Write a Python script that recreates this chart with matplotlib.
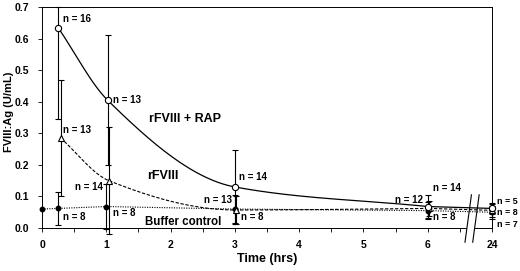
import numpy as np
import matplotlib
matplotlib.use("Agg")
import matplotlib.pyplot as plt

plt.rcParams['font.family'] = ['Liberation Sans', 'DejaVu Sans']
plt.rcParams['font.weight'] = 'bold'

# hours 24 is drawn at axis position 7 (broken axis)
tick_pos = [0, 1, 2, 3, 4, 5, 6, 7]
tick_labels = ["0", "1", "2", "3", "4", "5", "6", "24"]

# rFVIII + RAP
rap_x = [0.25, 1.02, 3.0, 6.0, 7.0]
rap_y = [0.635, 0.405, 0.13, 0.068, 0.062]
rap_err = [0.29, 0.205, 0.118, 0.035, 0.018]
rap_n = ["n = 16", "n = 13", "n = 14", "n = 14", "n = 5"]

# rFVIII
fviii_x = [0.29, 1.04, 3.02, 6.02, 7.0]
fviii_y = [0.285, 0.15, 0.057, 0.062, 0.056]
fviii_err = [0.185, 0.17, 0.045, 0.025, 0.02]
fviii_n = ["n = 13", "n = 14", "n = 13", "n = 12", "n = 8"]

# Buffer control
buf_x = [0.0, 0.25, 1.0, 3.0, 6.0, 7.0]
buf_y = [0.060, 0.062, 0.068, 0.060, 0.055, 0.050]
buf_err = [0.0, 0.052, 0.07, 0.045, 0.028, 0.02]
buf_n = ["n = 8", "n = 8", "n = 8", "n = 8", "n = 7"]


def pchip(x, y, xs):
    # monotone cubic connector used only for drawing the smooth curve
    x = np.asarray(x, float)
    y = np.asarray(y, float)
    h = np.diff(x)
    d = np.diff(y) / h
    m = np.zeros_like(y)
    for k in range(1, len(x) - 1):
        if d[k - 1] * d[k] > 0:
            w1 = 2 * h[k] + h[k - 1]
            w2 = h[k] + 2 * h[k - 1]
            m[k] = (w1 + w2) / (w1 / d[k - 1] + w2 / d[k])
    m[0] = d[0]
    m[-1] = d[-1]
    out = np.empty_like(xs)
    for i, xv in enumerate(xs):
        k = min(np.searchsorted(x, xv, side='right') - 1, len(x) - 2)
        t = (xv - x[k]) / h[k]
        h00 = 2 * t**3 - 3 * t**2 + 1
        h10 = t**3 - 2 * t**2 + t
        h01 = -2 * t**3 + 3 * t**2
        h11 = t**3 - t**2
        out[i] = h00 * y[k] + h10 * h[k] * m[k] + h01 * y[k + 1] + h11 * h[k] * m[k + 1]
    return out


fig = plt.figure(figsize=(5.2, 2.71), dpi=100)
ax = fig.add_axes([42 / 520, 1 - 228 / 271, 450 / 520, 221 / 271])

# smooth curves up to 6 h, straight across the break to 24 h
xs = np.linspace(rap_x[0], rap_x[3], 200)
ax.plot(xs, pchip(rap_x[:4], rap_y[:4], xs), color='black', lw=0.9)
ax.plot(rap_x[3:], rap_y[3:], color='black', lw=0.9)
xs = np.linspace(fviii_x[0], fviii_x[3], 200)
ax.plot(xs, pchip(fviii_x[:4], fviii_y[:4], xs), color='black', lw=0.8, ls=(0, (3, 1.5)))
ax.plot(fviii_x[3:], fviii_y[3:], color='black', lw=0.8, ls=(0, (3, 1.5)))
ax.plot(buf_x, buf_y, color='black', lw=0.8, ls=(0, (1, 1.2)))

ekw = dict(fmt='none', ecolor='black', elinewidth=0.8, capsize=2.5, capthick=0.8, clip_on=False)
ax.errorbar(buf_x[1:], buf_y[1:], yerr=buf_err[1:], **ekw)
ax.errorbar(fviii_x, fviii_y, yerr=fviii_err, **ekw)
rap_lo = np.array(rap_err)
rap_hi = np.minimum(np.array(rap_y) + rap_err, 0.7) - np.array(rap_y)
ax.errorbar(rap_x, rap_y, yerr=[rap_lo, rap_hi], **ekw)

ax.plot(buf_x, buf_y, 'o', color='black', ms=3.2, ls='none', clip_on=False, zorder=5)
ax.plot(fviii_x, fviii_y, '^', mfc='white', mec='black', mew=0.8, ms=4.5, ls='none', clip_on=False, zorder=5)
ax.plot(rap_x, rap_y, 'o', mfc='white', mec='black', mew=0.8, ms=4.5, ls='none', clip_on=False, zorder=6)

# n labels
fs = 7
ax.text(0.33, 0.645, rap_n[0], fontsize=fs, va='bottom')
ax.text(1.1, 0.405, rap_n[1], fontsize=fs, va='center')
ax.text(3.06, 0.145, rap_n[2], fontsize=fs, va='bottom')
ax.text(6.08, 0.127, rap_n[3], fontsize=fs, va='center', ha='left')
ax.text(7.08, 0.084, rap_n[4], fontsize=6.5, va='center')

ax.text(0.33, 0.295, fviii_n[0], fontsize=fs, va='bottom')
ax.text(0.95, 0.13, fviii_n[1], fontsize=fs, va='center', ha='right')
ax.text(2.95, 0.09, fviii_n[2], fontsize=fs, va='center', ha='right')
ax.text(5.92, 0.089, fviii_n[3], fontsize=fs, va='center', ha='right')
ax.text(7.08, 0.048, fviii_n[4], fontsize=6.5, va='center')

ax.text(0.32, 0.035, buf_n[0], fontsize=fs, va='center')
ax.text(1.1, 0.047, buf_n[1], fontsize=fs, va='center')
ax.text(3.1, 0.035, buf_n[2], fontsize=fs, va='center')
ax.text(6.08, 0.035, buf_n[3], fontsize=fs, va='center')
ax.text(7.08, 0.011, buf_n[4], fontsize=6.5, va='center')

ax.text(1.66, 0.335, "rFVIII + RAP", fontsize=9)
ax.text(1.64, 0.155, "rFVIII", fontsize=9)
ax.text(1.6, 0.01, "Buffer control", fontsize=8.3)

# axis break marks
for bx in [6.58, 6.7]:
    ax.plot([bx, bx + 0.1], [-0.045, 0.105], color='black', lw=0.8, clip_on=False, zorder=7)
ax.fill_between([6.61, 6.71], -0.003, 0.003, color='white', zorder=6, clip_on=False)

ax.set_xlim(0, 7)
ax.set_ylim(0, 0.7)
ax.set_xticks(tick_pos)
ax.set_xticklabels(tick_labels)
ax.set_xticks(np.arange(0, 7, 0.5), minor=True)
ax.set_yticks(np.arange(0, 0.71, 0.1))
ax.set_yticklabels([f"{v:.1f}" for v in np.arange(0, 0.71, 0.1)])
ax.tick_params(axis='both', direction='out', length=3, width=0.6, labelsize=7.5, pad=6)
ax.tick_params(axis='x', which='minor', direction='out', length=3, width=0.6)
for s in ax.spines.values():
    s.set_linewidth(0.7)

ax.set_xlabel("Time (hrs)", fontsize=9, fontweight='bold', labelpad=2)
ax.set_ylabel("FVIII:Ag (U/mL)", fontsize=8, fontweight='bold')
ax.yaxis.set_label_coords(-0.062, 0.525)

fig.savefig("out.png", dpi=100)
